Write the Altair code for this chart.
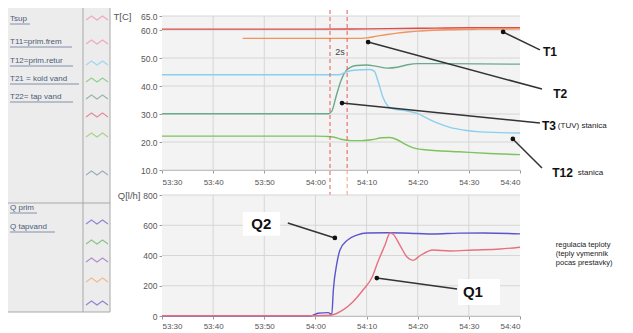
import json
import pandas as pd
import altair as alt

# ---------------- axis ticks ----------------
x_tick_values = [0, 10, 20, 30, 40, 50, 60, 70]          # seconds after 53:30
x_tick_labels = ["53:30", "53:40", "53:50", "54:00", "54:10", "54:20", "54:30", "54:40"]
y_top_ticks = [10, 20, 30, 40, 50, 60, 65]
y_bot_ticks = [0, 200, 400, 600, 800]
vgrid_values = [10, 20, 30, 40, 50, 60]

# ---------------- top panel: temperatures [°C] ----------------
top_names = ["T1", "T2", "T3", "T12", "T21"]
top_colors = ["#e04a4a", "#f0935e", "#6aa98c", "#8acfec", "#7cc45c"]

T1_t = [0, 30, 40, 50, 60, 70]
T1_v = [60.3, 60.3, 60.4, 60.6, 60.8, 60.8]

T2_t = [15.8, 30, 38, 40, 42, 44, 46, 48, 50, 53, 56, 62, 70]
T2_v = [57.0, 57.0, 57.0, 57.2, 57.8, 58.4, 58.9, 59.3, 59.6, 59.9, 60.1, 60.3, 60.4]

T3_t = [0, 32.5, 33.2, 34, 35, 36, 37, 38, 40, 42, 44, 46, 48, 50, 55, 62, 70]
T3_v = [30.1, 30.1, 31.0, 36.0, 42.0, 45.5, 46.8, 47.3, 47.5, 47.0, 46.4, 46.7, 47.6, 48.0, 48.0, 47.9, 47.8]

T12_t = [0, 34.5, 36, 37.5, 40.7, 41.5, 42.2, 43.2, 44.2, 45.2, 47.5, 49.9, 51.8, 53.8, 56.3, 59.2, 62.2, 70]
T12_v = [44.0, 44.0, 45.0, 45.6, 45.9, 45.3, 42.0, 36.0, 32.8, 31.8, 31.2, 30.2, 28.5, 26.8, 25.2, 24.2, 23.6, 23.2]

T21_t = [0, 30, 32, 33.5, 35, 37, 39, 41, 43, 44.5, 46, 47.5, 49, 51, 54, 58, 64, 70]
T21_v = [22.1, 22.1, 22.0, 21.8, 21.0, 20.5, 20.5, 20.8, 21.5, 21.6, 20.8, 19.2, 18.0, 17.3, 16.9, 16.5, 15.9, 15.5]

# ---------------- bottom panel: flows [l/h] ----------------
bot_names = ["Q2", "Q1"]
bot_colors = ["#5a55cc", "#e8707e"]

Q2_t = [0, 29, 30.5, 32.5, 33.2, 33.5, 34.2, 34.8, 36.2, 38.1, 40.1, 44, 50, 53, 58, 63, 70]
Q2_v = [0, 0, 18, 22, 10, 170, 350, 436, 500, 535, 549, 550, 545, 542, 548, 549, 543]

Q1_t = [0, 30, 32.9, 35.4, 37.3, 39.3, 41.1, 42.2, 43.6, 44.6, 45.2, 46.5, 47.9, 49.1, 50.5, 53, 56.3, 60.8, 66.1, 70]
Q1_v = [2, 2, 5, 40, 93, 172, 258, 357, 469, 549, 540, 469, 390, 368, 400, 436, 430, 436, 443, 455]

# ---------------- annotations ----------------
arrow_top_t = [66.7, 40.3, 35.2, 68.6]
arrow_top_v = [59.3, 55.7, 33.9, 21.1]
arrow_top_t2 = [73.9, 74.3, 73.9, 74.3]
arrow_top_v2 = [52.9, 38.9, 26.8, 10.7]
label_top = ["T1", "T2", "T3", "T12"]
label_top_t = [74.5, 76.5, 74.3, 76.3]
label_top_v = [52.1, 37.1, 25.7, 8.9]
note_top = ["(TUV) stanica", "stanica"]
note_top_t = [77.4, 81.3]
note_top_v = [25.7, 8.9]
marker_lines_t = [32.85, 36.2]

arrow_bot_t = [24.6, 57.7]
arrow_bot_v = [615, 178]
arrow_bot_t2 = [33.8, 42.0]
arrow_bot_v2 = [516, 251]
label_bot = ["Q2", "Q1"]
label_bot_t = [19.4, 60.8]
label_bot_v = [608, 159]
box_bot_t = [15.8, 57.9]
box_bot_t2 = [23.1, 66.1]
box_bot_v = [530, 73]
box_bot_v2 = [688, 245]
note_bot = ["regulacia teploty", "(teply vymennik", "pocas prestavky)"]
note_bot_t = [77.0, 77.0, 77.0]
note_bot_v = [469, 410, 350]

# ---------------- left legend ----------------
legend_top_labels = ["Tsup", "T11=prim.frem", "T12=prim.retur", "T21 = kold vand", "T22= tap vand"]
legend_bot_labels = ["Q prim", "Q tapvand"]
icon_colors = ["#f2a6c4", "#f2a6b8", "#9fd6f0", "#8fd08f", "#9ab4aa", "#e58a9c", "#a8d488", "#9aaeb4",
               "#8c86d8", "#86c486", "#b48ad0", "#f4b88a", "#8a86cc"]

# ---------------- layout (pixels) ----------------
W, H = 358, 300
TOP_H = 154
BOT_Y0 = 179
FONT = "Liberation Sans"

legend_text_y = [3, 26, 45, 63, 81, 192, 211]
legend_text_w = [20, 62, 63, 69, 63, 27, 45]
icon_y = [2, 26, 47, 64, 81, 99, 119, 157, 206, 226, 244, 264, 287]

xsc = alt.Scale(domain=[0, 70], nice=False, zero=False)
ytop = alt.Scale(domain=[10, 65], range=[TOP_H, 0], nice=False, zero=False)
ybot = alt.Scale(domain=[0, 800], range=[H, BOT_Y0], nice=False, zero=False)

label_expr = json.dumps(x_tick_labels) + "[round(datum.value / 10)]"


def long(names, pairs):
    rows = []
    for n, (ts, vs) in zip(names, pairs):
        for t, v in zip(ts, vs):
            rows.append({"t": t, "v": v, "s": n})
    return pd.DataFrame(rows)


one = pd.DataFrame({"a": [0]})

top_df = long(top_names, [(T1_t, T1_v), (T2_t, T2_v), (T3_t, T3_v), (T12_t, T12_v), (T21_t, T21_v)])
bot_df = long(bot_names, [(Q2_t, Q2_v), (Q1_t, Q1_v)])

x_axis_common = dict(values=x_tick_values, labelExpr=label_expr, grid=False, title=None,
                     tickSize=3, labelFontSize=8, labelColor="#555", tickColor="#999",
                     domainColor="#aaa", labelFont=FONT)
y_axis_common = dict(orient="left", grid=False, tickSize=3, labelFontSize=8.5, labelColor="#555",
                     tickColor="#999", domainColor="#aaa", labelPadding=2, labelFont=FONT,
                     titleAngle=0, titleAlign="right", titleBaseline="middle",
                     titleFontSize=9.5, titleFontWeight="normal", titleColor="#555", titleFont=FONT)


def X(field):
    return alt.X(field, scale=xsc)


def panel(y_scale, y0, y1, hticks):
    bg = alt.Chart(one).mark_rect(color="#f3f3f3").encode(
        x=alt.value(0), x2=alt.value(W), y=alt.value(y0), y2=alt.value(y1))
    hg = alt.Chart(pd.DataFrame({"v": hticks})).mark_rule(color="#d6d6d6", strokeWidth=1).encode(
        y=alt.Y("v:Q", scale=y_scale), x=alt.value(0), x2=alt.value(W))
    vg = alt.Chart(pd.DataFrame({"t": vgrid_values})).mark_rule(color="#d6d6d6", strokeWidth=1).encode(
        x=X("t:Q"), y=alt.value(y0), y2=alt.value(y1))
    return bg, hg, vg


# ---------------- top panel ----------------
bg_t, hg_t, vg_t = panel(ytop, 0, TOP_H, y_top_ticks)

top_lines = alt.Chart(top_df).mark_line(strokeWidth=1.4, interpolate="monotone").encode(
    x=alt.X("t:Q", scale=xsc, axis=alt.Axis(orient="bottom", offset=-(H - TOP_H), labelPadding=5, **x_axis_common)),
    y=alt.Y("v:Q", scale=ytop, axis=alt.Axis(values=y_top_ticks, format=".1f", title="T[C]",
                                             titleX=-31, titleY=0, **y_axis_common)),
    color=alt.Color("s:N", scale=alt.Scale(domain=top_names, range=top_colors), legend=None),
    detail="s:N",
)

dash1 = alt.Chart(pd.DataFrame({"t": [marker_lines_t[0]]})).mark_rule(color="#e8585a", strokeDash=[4, 3], strokeWidth=1).encode(
    x=X("t:Q"), y=alt.value(-6), y2=alt.value(H))
dash2 = alt.Chart(pd.DataFrame({"t": [marker_lines_t[1]]})).mark_rule(color="#e8585a", strokeDash=[4, 3], strokeWidth=1).encode(
    x=X("t:Q"), y=alt.value(-6), y2=alt.value(TOP_H))
dash3 = alt.Chart(pd.DataFrame({"t": [marker_lines_t[1]]})).mark_rule(color="#f0a070", strokeDash=[4, 3], strokeWidth=1).encode(
    x=X("t:Q"), y=alt.value(TOP_H), y2=alt.value(188))

arr_top_df = pd.DataFrame({"t": arrow_top_t, "v": arrow_top_v, "t2": arrow_top_t2, "v2": arrow_top_v2})
arr_top = alt.Chart(arr_top_df).mark_rule(color="#333", strokeWidth=1.5).encode(
    x=X("t:Q"), x2="t2:Q", y=alt.Y("v:Q", scale=ytop), y2="v2:Q")
dot_top = alt.Chart(arr_top_df).mark_circle(color="#111", size=22, opacity=1).encode(
    x=X("t:Q"), y=alt.Y("v:Q", scale=ytop))
lab_top = alt.Chart(pd.DataFrame({"t": label_top_t, "v": label_top_v, "s": label_top})).mark_text(
    align="left", baseline="middle", fontSize=12, fontWeight="bold", font=FONT, color="#111").encode(
    x=X("t:Q"), y=alt.Y("v:Q", scale=ytop), text="s:N")
note_t = alt.Chart(pd.DataFrame({"t": note_top_t, "v": note_top_v, "s": note_top})).mark_text(
    align="left", baseline="middle", fontSize=8, font=FONT, color="#222").encode(
    x=X("t:Q"), y=alt.Y("v:Q", scale=ytop), text="s:N")
two_s = alt.Chart(pd.DataFrame({"t": [34.8], "v": [52.1], "s": ["2s"]})).mark_text(
    align="center", baseline="middle", fontSize=9, font=FONT, color="#444").encode(
    x=X("t:Q"), y=alt.Y("v:Q", scale=ytop), text="s:N")

top_layer = alt.layer(bg_t, hg_t, vg_t, top_lines, dash1, dash2, dash3, arr_top, dot_top, lab_top, note_t, two_s)

# ---------------- bottom panel ----------------
bg_b, hg_b, vg_b = panel(ybot, BOT_Y0, H, y_bot_ticks)

bot_lines = alt.Chart(bot_df).mark_line(strokeWidth=1.4, interpolate="monotone").encode(
    x=alt.X("t:Q", scale=xsc, axis=alt.Axis(orient="bottom", labelPadding=3, **x_axis_common)),
    y=alt.Y("v:Q", scale=ybot, axis=alt.Axis(values=y_bot_ticks, format="d", title="Q[l/h]",
                                             titleX=-22, titleY=BOT_Y0, **y_axis_common)),
    color=alt.Color("s:N", scale=alt.Scale(domain=bot_names, range=bot_colors), legend=None),
    detail="s:N",
)

box_b = alt.Chart(pd.DataFrame({"t": box_bot_t, "t2": box_bot_t2, "v": box_bot_v, "v2": box_bot_v2})).mark_rect(
    color="white").encode(
    x=X("t:Q"), x2="t2:Q", y=alt.Y("v:Q", scale=ybot), y2="v2:Q")
arr_bot_df = pd.DataFrame({"t": arrow_bot_t, "v": arrow_bot_v, "t2": arrow_bot_t2, "v2": arrow_bot_v2})
arr_bot = alt.Chart(arr_bot_df).mark_rule(color="#333", strokeWidth=1.5).encode(
    x=X("t:Q"), x2="t2:Q", y=alt.Y("v:Q", scale=ybot), y2="v2:Q")
dot_bot = alt.Chart(arr_bot_df).mark_circle(color="#111", size=22, opacity=1).encode(
    x=X("t2:Q"), y=alt.Y("v2:Q", scale=ybot))
lab_bot = alt.Chart(pd.DataFrame({"t": label_bot_t, "v": label_bot_v, "s": label_bot})).mark_text(
    align="center", baseline="middle", fontSize=15, fontWeight="bold", font=FONT, color="#111").encode(
    x=X("t:Q"), y=alt.Y("v:Q", scale=ybot), text="s:N")
note_b = alt.Chart(pd.DataFrame({"t": note_bot_t, "v": note_bot_v, "s": note_bot})).mark_text(
    align="left", baseline="middle", fontSize=7.5, font=FONT, color="#222").encode(
    x=X("t:Q"), y=alt.Y("v:Q", scale=ybot), text="s:N")

bot_layer = alt.layer(bg_b, hg_b, vg_b, box_b, bot_lines, arr_bot, dot_bot, lab_bot, note_b)

# ---------------- left legend (pixel layout) ----------------
LX0, LX1, LSTRIP = -154, -52, -79
leg_bg = alt.Chart(one).mark_rect(color="#ececec").encode(
    x=alt.value(LX0), x2=alt.value(LX1), y=alt.value(-8), y2=alt.value(296))
border_df = pd.DataFrame({
    "x": [LSTRIP, LX1, LX0, LX0], "x2": [LSTRIP, LX1, LX1, LX1],
    "y": [-8, -8, 187, 296], "y2": [296, 296, 187, 296]})
leg_border = alt.Chart(border_df).mark_rule(color="#a8a8a8", strokeWidth=1).encode(
    x=alt.X("x:Q", scale=None), x2="x2:Q", y=alt.Y("y:Q", scale=None), y2="y2:Q")
leg_text_df = pd.DataFrame({"s": legend_top_labels + legend_bot_labels, "y": legend_text_y,
                            "w": legend_text_w})
leg_text = alt.Chart(leg_text_df).mark_text(align="left", baseline="middle", fontSize=8, font=FONT,
                                            color="#4b5b78").encode(
    x=alt.value(-152), y=alt.Y("y:Q", scale=None), text="s:N")
leg_under = alt.Chart(leg_text_df).transform_calculate(x0="-152", x1="-152 + datum.w", yu="datum.y + 5").mark_rule(
    color="#6b7898", strokeWidth=0.8).encode(
    x=alt.X("x0:Q", scale=None), x2="x1:Q", y=alt.Y("yu:Q", scale=None))
ZIG = "M-1,0.18L-0.5,-0.18L0,0.18L0.5,-0.18L1,0.18"
leg_icons = alt.Chart(pd.DataFrame({"c": icon_colors, "y": icon_y})).mark_point(
    shape=ZIG, filled=False, size=484, strokeWidth=1.1, opacity=1).encode(
    x=alt.value(-65), y=alt.Y("y:Q", scale=None), color=alt.Color("c:N", scale=None))

legend_layer = alt.layer(leg_bg, leg_border, leg_text, leg_under, leg_icons)

chart = alt.layer(top_layer, bot_layer, legend_layer).resolve_scale(
    x="independent", y="independent", color="independent"
).resolve_axis(x="independent", y="independent").properties(
    width=W, height=H,
    autosize=alt.AutoSizeParams(type="none"),
    padding={"left": 154, "top": 8, "right": 105, "bottom": 17},
    background="white",
).configure_view(stroke=None)

chart.save("out.html", embed_options={"renderer": "svg", "actions": False})
